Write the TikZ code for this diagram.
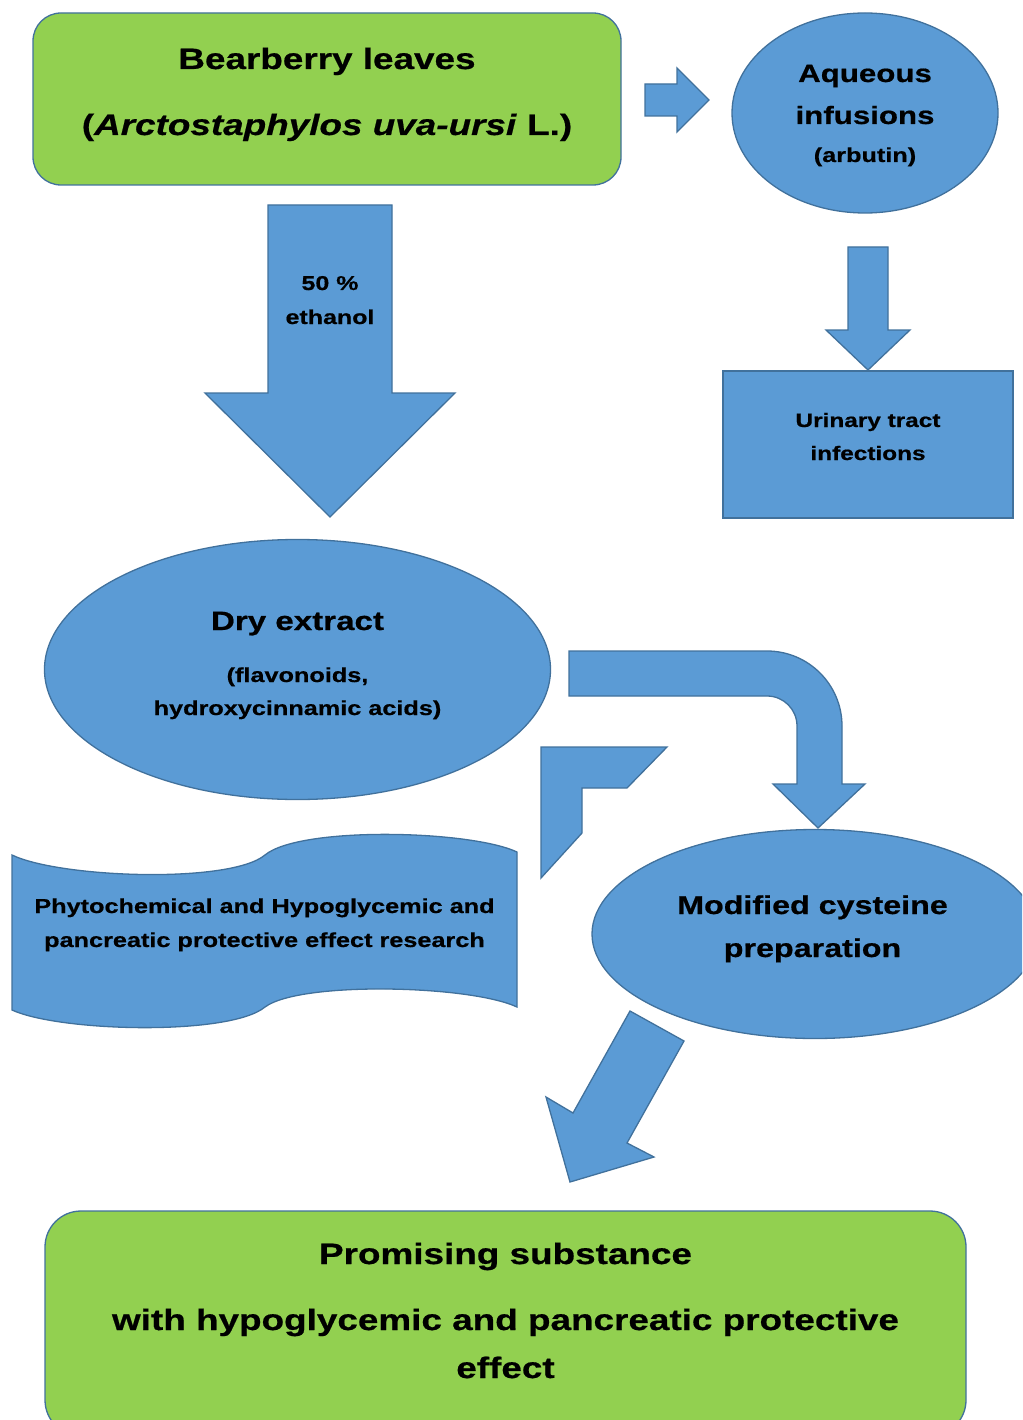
\documentclass[tikz,border=0pt]{standalone}
\usepackage{fontspec}
\setmainfont{Liberation Sans}[FakeStretch=1.25, BoldFeatures={FakeBold=0.6}, BoldItalicFeatures={FakeBold=0.6}]
\usetikzlibrary{shapes.geometric}
\definecolor{bfill}{HTML}{5B9BD5}
\definecolor{bline}{HTML}{41719C}
\definecolor{gfill}{HTML}{92D050}
\tikzset{
  blueshape/.style={fill=bfill, draw=bline, line width=1.3pt},
  greenbox/.style={fill=gfill, draw=bline, line width=1.3pt},
  lbl/.style={anchor=base, inner sep=0pt, text=black},
  fsA/.style={lbl, font=\fontsize{29.5}{34}\selectfont\bfseries},
  fsB/.style={lbl, font=\fontsize{25.5}{30}\selectfont\bfseries},
  fsC/.style={lbl, font=\fontsize{20.2}{24}\selectfont\bfseries},
}
\begin{document}
\begin{tikzpicture}[x=1pt,y=-1pt]
\useasboundingbox (0,0) rectangle (1022,1420);
\clip (0,0) rectangle (1022,1420);

% top green box
\draw[greenbox, rounded corners=28pt] (33,13) rectangle (621,185);
\node[fsA] (bear1) at (327,69) {Bearberry leaves};
\node[fsA] (bear2) at (327,135) {(\textit{Arctostaphylos uva-ursi} L.)};

% right arrow
\draw[blueshape] (645,84) -- (677,84) -- (677,68) -- (709,100) -- (677,132) -- (677,116) -- (645,116) -- cycle;

% aqueous ellipse
\node[ellipse, blueshape, minimum width=266pt, minimum height=200pt, inner sep=0pt] (aq) at (865,113) {};
\node[fsB, font=\fontsize{25}{30}\selectfont\bfseries] (aq1) at (865,82) {Aqueous};
\node[fsB, font=\fontsize{25}{30}\selectfont\bfseries] (aq2) at (865,124) {infusions};
\node[fsC] (aq3) at (865,162) {(arbutin)};

% small down arrow
\draw[blueshape] (848,247) -- (888,247) -- (888,330) -- (910,330) -- (868,370) -- (826,330) -- (848,330) -- cycle;

% urinary rectangle
\node[rectangle, blueshape, minimum width=290pt, minimum height=147pt, inner sep=0pt] (uti) at (868,444.5) {};
\node[fsC, font=\fontsize{19.5}{24}\selectfont\bfseries] (uti1) at (868,427) {Urinary tract};
\node[fsC, font=\fontsize{19.5}{24}\selectfont\bfseries] (uti2) at (868,460) {infections};

% big down arrow
\draw[blueshape] (268,205) -- (392,205) -- (392,393) -- (455,393) -- (330,517) -- (205,393) -- (268,393) -- cycle;
\node[fsC, font=\fontsize{20}{24}\selectfont\bfseries] (eth1) at (330,290) {50 \%};
\node[fsC, font=\fontsize{20}{24}\selectfont\bfseries] (eth2) at (330,324) {ethanol};

% dry extract ellipse
\node[ellipse, blueshape, minimum width=506pt, minimum height=260pt, inner sep=0pt] (dry) at (297.5,669.5) {};
\node[fsB, font=\fontsize{26.5}{30}\selectfont\bfseries] (dry1) at (297.5,630) {Dry extract};
\node[fsC] (dry2) at (297.5,682) {(flavonoids,};
\node[fsC] (dry3) at (297.5,715) {hydroxycinnamic acids)};

% U-turn arrow
\draw[blueshape] (569,651) -- (767,651) .. controls (808.4,651) and (842,684.6) .. (842,726)
  -- (842,784) -- (865,784) -- (818,828) -- (773,784) -- (797,784) -- (797,726)
  .. controls (797,709.4) and (783.6,696) .. (767,696) -- (569,696) -- cycle;

% L-shaped arrow
\draw[blueshape] (541,747) -- (667,747) -- (627,788) -- (582,788) -- (582,833) -- (541,878) -- cycle;

% punched tape shape
\draw[blueshape] (12,855) .. controls (60,878) and (230,884) .. (265,855)
  .. controls (300,826) and (470,830) .. (517,852) -- (517,1007)
  .. controls (470,985) and (300,981) .. (265,1007)
  .. controls (230,1036) and (60,1032) .. (12,1010) -- cycle;
\node[fsC] (ph1) at (264.5,913) {Phytochemical and Hypoglycemic and};
\node[fsC] (ph2) at (264.5,947) {pancreatic protective effect research};

% modified cysteine ellipse
\node[ellipse, blueshape, minimum width=446pt, minimum height=209pt, inner sep=0pt] (mod) at (815,934) {};
\node[fsB, font=\fontsize{25.8}{30}\selectfont\bfseries] (mod1) at (812.5,914) {Modified cysteine};
\node[fsB, font=\fontsize{25.8}{30}\selectfont\bfseries] (mod2) at (812.5,957) {preparation};

% diagonal arrow
\draw[blueshape] (630,1011) -- (684,1041) -- (627,1143) -- (654,1157) -- (570,1182) -- (546,1097) -- (573,1113) -- cycle;

% bottom green box
\draw[greenbox, rounded corners=36pt] (45,1211) rectangle (966,1436);
\node[fsA] (pr1) at (505.5,1264) {Promising substance};
\node[fsA] (pr2) at (505.5,1330) {with hypoglycemic and pancreatic protective};
\node[fsA] (pr3) at (505.5,1378) {effect};
\end{tikzpicture}
\end{document}
